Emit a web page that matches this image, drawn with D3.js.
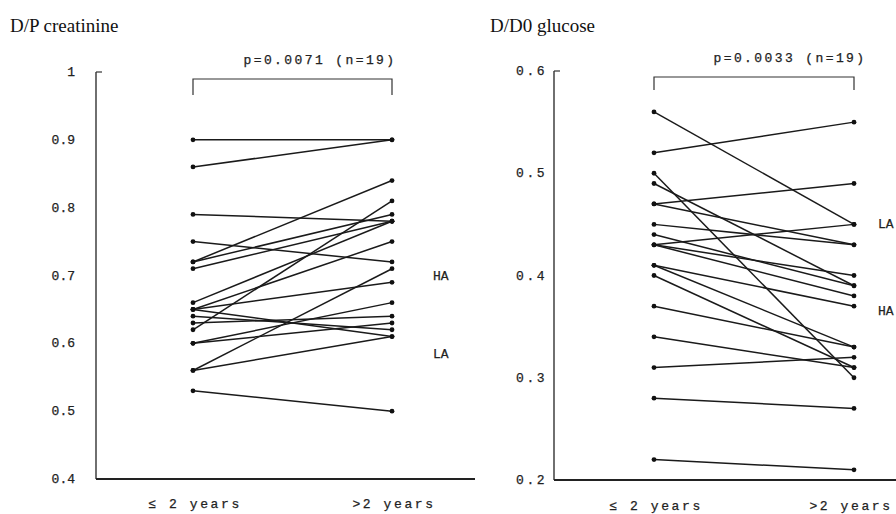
<!DOCTYPE html>
<html>
<head>
<meta charset="utf-8">
<script src="https://cdn.jsdelivr.net/npm/d3@7"></script>
<style>
  body { margin: 0; background: #fff; }
  svg { display: block; }
  .title { font-family: "Liberation Serif", "Times New Roman", serif; font-size: 19px; fill: #111; }
  .mono { font-family: "Liberation Mono", "Courier New", monospace; font-size: 13px; fill: #222; stroke: #222; stroke-width: 0.25px; }
</style>
</head>
<body>
<svg id="chart" width="896" height="514"></svg>
<script>
// D/P creatinine, paired values (<= 2 years, > 2 years)
var creatBefore = [0.90, 0.86, 0.79, 0.75, 0.72, 0.72, 0.71, 0.66, 0.65, 0.62, 0.56, 0.65, 0.65, 0.64, 0.63, 0.60, 0.60, 0.56, 0.53];
var creatAfter  = [0.90, 0.90, 0.78, 0.72, 0.84, 0.79, 0.78, 0.78, 0.75, 0.81, 0.71, 0.69, 0.61, 0.62, 0.64, 0.63, 0.66, 0.61, 0.50];
var creatTicks = [0.4, 0.5, 0.6, 0.7, 0.8, 0.9, 1];

// D/D0 glucose
var glucBefore = [0.56, 0.52, 0.50, 0.49, 0.47, 0.47, 0.45, 0.44, 0.43, 0.43, 0.43, 0.41, 0.41, 0.40, 0.37, 0.34, 0.31, 0.28, 0.22];
var glucAfter  = [0.45, 0.55, 0.30, 0.39, 0.49, 0.43, 0.43, 0.39, 0.45, 0.40, 0.38, 0.37, 0.33, 0.31, 0.33, 0.31, 0.32, 0.27, 0.21];
var glucTicks = [0.2, 0.3, 0.4, 0.5, 0.6];

var groups = ["\u2264 2 years", ">2 years"];

var svg = d3.select("#chart");

function drawPanel(o) {
    var g = svg.append("g");
    var y = d3.scaleLinear().domain(o.domain).range([o.bottom, o.top]);
    var x = d3.scalePoint().domain(groups).range([o.x1, o.x2]);

    // title
    g.append("text").attr("class", "title").attr("x", o.titleX).attr("y", 32).text(o.title);

    // y axis
    g.append("line").attr("x1", o.axisX).attr("x2", o.axisX).attr("y1", y(o.domain[1])).attr("y2", o.bottom)
        .attr("stroke", "#333").attr("stroke-width", 1.4);
    g.append("line").attr("x1", o.axisX).attr("x2", o.axisX + 6).attr("y1", y(o.domain[1])).attr("y2", y(o.domain[1]))
        .attr("stroke", "#333").attr("stroke-width", 1.2);
    g.selectAll(".tl").data(o.ticks).enter().append("text")
        .attr("class", "mono")
        .attr("x", o.axisX - o.labelGap).attr("y", function(d){ return y(d) + 4; })
        .attr("text-anchor", "end")
        .style("letter-spacing", o.tickSpacing + "px")
        .text(function(d){ return d === 1 ? "1" : d3.format(".1f")(d); });

    // x axis
    g.append("line").attr("x1", o.axisX).attr("x2", o.axisEnd).attr("y1", o.bottom).attr("y2", o.bottom)
        .attr("stroke", "#222").attr("stroke-width", 2);
    g.selectAll(".xl").data(groups).enter().append("text")
        .attr("class", "mono")
        .attr("x", function(d, i){ return x(d) + o.xlShift[i]; }).attr("y", o.xlY)
        .attr("text-anchor", "middle")
        .style("letter-spacing", "2.6px")
        .text(function(d){ return d; });

    // bracket and p value
    g.append("path")
        .attr("d", "M" + o.x1 + "," + o.brBottom + "V" + o.brTop + "H" + o.x2 + "V" + o.brBottom)
        .attr("fill", "none").attr("stroke", "#333").attr("stroke-width", 1.2);
    g.append("text").attr("class", "mono").attr("x", o.pX).attr("y", o.pY)
        .attr("text-anchor", "middle").style("letter-spacing", "2.4px").text(o.p);

    // paired lines
    var pairs = o.before.map(function(b, i){ return [b, o.after[i]]; });
    g.selectAll(".pl").data(pairs).enter().append("line")
        .attr("x1", x(groups[0])).attr("x2", x(groups[1]))
        .attr("y1", function(d){ return y(d[0]); }).attr("y2", function(d){ return y(d[1]); })
        .attr("stroke", "#1a1a1a").attr("stroke-width", 1.5);
    pairs.forEach(function(d){
        g.append("circle").attr("cx", x(groups[0])).attr("cy", y(d[0])).attr("r", 2.4).attr("fill", "#111");
        g.append("circle").attr("cx", x(groups[1])).attr("cy", y(d[1])).attr("r", 2.4).attr("fill", "#111");
    });

    // HA / LA labels
    o.tags.forEach(function(t){
        g.append("text").attr("class", "mono").attr("x", o.tagX).attr("y", y(t.v) + 4).text(t.label);
    });
}

drawPanel({
    title: "D/P creatinine", titleX: 10,
    domain: [0.4, 1], top: 72, bottom: 479,
    axisX: 96, axisEnd: 475, x1: 193, x2: 392,
    ticks: creatTicks, labelGap: 21, tickSpacing: 0,
    xlY: 508, xlShift: [2, 2],
    brTop: 79, brBottom: 95, pX: 320, pY: 64, p: "p=0.0071 (n=19)",
    before: creatBefore, after: creatAfter,
    tagX: 433, tags: [{label: "HA", v: 0.7}, {label: "LA", v: 0.585}]
});

drawPanel({
    title: "D/D0 glucose", titleX: 490,
    domain: [0.2, 0.6], top: 71, bottom: 480,
    axisX: 554, axisEnd: 896, x1: 654, x2: 854,
    ticks: glucTicks, labelGap: 7, tickSpacing: 2.5,
    xlY: 510, xlShift: [2, -3],
    brTop: 77, brBottom: 90, pX: 790, pY: 62, p: "p=0.0033 (n=19)",
    before: glucBefore, after: glucAfter,
    tagX: 878, tags: [{label: "LA", v: 0.45}, {label: "HA", v: 0.365}]
});
</script>
</body>
</html>
